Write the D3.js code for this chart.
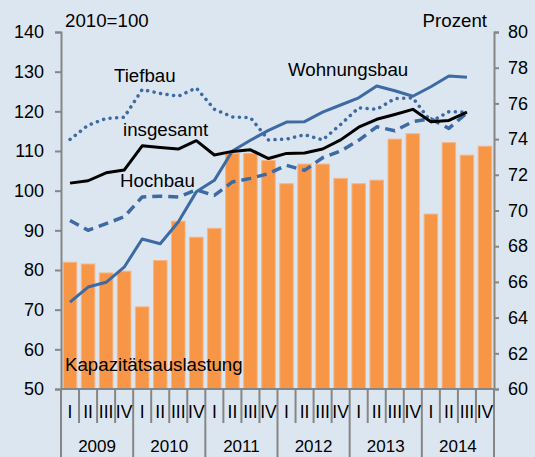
<!DOCTYPE html>
<html>
<head>
<meta charset="utf-8">
<script src="https://cdn.jsdelivr.net/npm/d3@7"></script>
<style>
  html, body { margin: 0; padding: 0; background: #dce6f1; }
  svg { display: block; font-family: "Liberation Sans", Arial, sans-serif; }
</style>
</head>
<body>
<div id="chart"></div>
<script>
const years = ["2009", "2010", "2011", "2012", "2013", "2014"];
const quarters = ["I", "II", "III", "IV"];

// Kapazitätsauslastung in Prozent (rechte Achse), 2009 I bis 2014 IV
const auslastung = [67.1, 67.0, 66.5, 66.6, 64.6, 67.2, 69.4, 68.5, 69.0, 73.2, 73.2, 72.8,
  71.5, 72.6, 72.6, 71.8, 71.5, 71.7, 74.0, 74.3, 69.8, 73.8, 73.1, 73.6];

// Indizes 2010=100 (linke Achse), 2009 I bis 2014 III
const insgesamt = [101.9, 102.5, 104.5, 105.2, 111.3, 110.9, 110.5, 112.6, 109.0, 109.9, 110.3, 108.1,
  109.4, 109.5, 110.5, 112.8, 116.0, 118.0, 119.2, 120.5, 117.4, 117.7, 119.8];
const wohnungsbau = [71.9, 75.7, 76.9, 80.7, 87.8, 86.6, 92.1, 99.7, 102.6, 110.0, 112.7, 115.2,
  117.3, 117.4, 119.8, 121.6, 123.4, 126.4, 125.2, 123.8, 126.2, 128.9, 128.6];
const tiefbau = [112.9, 116.5, 118.2, 118.5, 125.5, 124.5, 123.8, 125.9, 120.5, 118.6, 118.4, 112.8,
  113.0, 114.1, 112.8, 116.7, 120.9, 120.5, 123.2, 123.4, 117.4, 119.9, 119.8];
const hochbau = [92.5, 90.0, 91.7, 93.4, 98.4, 98.6, 98.4, 100.2, 98.8, 102.2, 103.1, 104.3,
  106.4, 105.1, 108.3, 110.0, 112.7, 116.1, 115.1, 117.4, 118.1, 115.7, 119.6];

const leftTicks = [50, 60, 70, 80, 90, 100, 110, 120, 130, 140];
const rightTicks = [60, 62, 64, 66, 68, 70, 72, 74, 76, 78, 80];

const width = 535, height = 457;
const plot = { left: 61, right: 494, top: 32, bottom: 389 };

const keys = [];
years.forEach(y => quarters.forEach(q => keys.push(y + "-" + q)));

const svg = d3.select("#chart").append("svg")
  .attr("width", width)
  .attr("height", height);

svg.append("rect")
  .attr("width", width)
  .attr("height", height)
  .attr("fill", "#dce6f1");

const x = d3.scaleBand()
  .domain(keys)
  .range([plot.left, plot.right])
  .paddingInner(0.25)
  .paddingOuter(0.125);

const yL = d3.scaleLinear().domain([50, 140]).range([plot.bottom, plot.top]);
const yR = d3.scaleLinear().domain([60, 80]).range([plot.bottom, plot.top]);

const cx = i => x(keys[i]) + x.bandwidth() / 2;

// bars
svg.append("g")
  .selectAll("rect")
  .data(auslastung)
  .enter().append("rect")
  .attr("x", (d, i) => x(keys[i]))
  .attr("y", d => yR(d))
  .attr("width", x.bandwidth())
  .attr("height", d => yR(60) - yR(d))
  .attr("fill", "#f79646")
  .attr("stroke", "#f9b483")
  .attr("stroke-width", 1);

// lines
const line = d3.line()
  .x((d, i) => cx(i))
  .y(d => yL(d));

const series = [
  { values: tiefbau, color: "#3d6aa3", width: 3.5, dash: "0.1 6.5", cap: "round" },
  { values: hochbau, color: "#3d6aa3", width: 3.5, dash: "10 6", cap: "butt" },
  { values: wohnungsbau, color: "#3d6aa3", width: 3, dash: null, cap: "butt" },
  { values: insgesamt, color: "#000000", width: 3, dash: null, cap: "butt" }
];

svg.append("g")
  .selectAll("path")
  .data(series)
  .enter().append("path")
  .attr("d", d => line(d.values))
  .attr("fill", "none")
  .attr("stroke", d => d.color)
  .attr("stroke-width", d => d.width)
  .attr("stroke-dasharray", d => d.dash)
  .attr("stroke-linecap", d => d.cap)
  .attr("stroke-linejoin", "round");

// axes
const axisColor = "#868686";

const gL = svg.append("g")
  .attr("transform", `translate(${plot.left},0)`)
  .call(d3.axisLeft(yL).tickValues(leftTicks).tickSize(6).tickSizeOuter(6).tickPadding(11));

const gR = svg.append("g")
  .attr("transform", `translate(${plot.right},0)`)
  .call(d3.axisRight(yR).tickValues(rightTicks).tickSize(5).tickSizeOuter(5).tickPadding(9));

[gL, gR].forEach(g => {
  g.selectAll("path, line").attr("stroke", axisColor).attr("stroke-width", 2);
  g.selectAll("text")
    .attr("fill", "#000")
    .style("font-size", "18px")
    .style("font-family", "'Liberation Sans', Arial, sans-serif");
});

// category axis
const gX = svg.append("g");
gX.append("line")
  .attr("x1", plot.left).attr("x2", plot.right)
  .attr("y1", plot.bottom).attr("y2", plot.bottom)
  .attr("stroke", axisColor).attr("stroke-width", 2);

const step = x.step();
d3.range(keys.length + 1).forEach(i => {
  const xb = plot.left + i * step;
  gX.append("line")
    .attr("x1", xb).attr("x2", xb)
    .attr("y1", plot.bottom)
    .attr("y2", i % 4 === 0 ? height : 423)
    .attr("stroke", axisColor)
    .attr("stroke-width", 2);
});

gX.selectAll("text.q")
  .data(keys)
  .enter().append("text")
  .attr("class", "q")
  .attr("x", (d, i) => cx(i))
  .attr("y", 418)
  .attr("text-anchor", "middle")
  .style("font-size", "17.5px")
  .text(d => d.split("-")[1]);

gX.selectAll("text.y")
  .data(years)
  .enter().append("text")
  .attr("class", "y")
  .attr("x", (d, i) => plot.left + (i * 4 + 2) * step)
  .attr("y", 452)
  .attr("text-anchor", "middle")
  .style("font-size", "17px")
  .text(d => d);

// annotations
const labels = [
  { text: "2010=100", x: 65, y: 27, anchor: "start" },
  { text: "Prozent", x: 487, y: 27, anchor: "end" },
  { text: "Tiefbau", x: 114, y: 82, anchor: "start" },
  { text: "insgesamt", x: 123, y: 136, anchor: "start" },
  { text: "Hochbau", x: 120, y: 187, anchor: "start" },
  { text: "Wohnungsbau", x: 288, y: 76, anchor: "start" },
  { text: "Kapazitätsauslastung", x: 65, y: 371, anchor: "start" }
];

svg.append("g")
  .selectAll("text")
  .data(labels)
  .enter().append("text")
  .attr("x", d => d.x)
  .attr("y", d => d.y)
  .attr("text-anchor", d => d.anchor)
  .style("font-size", "18.7px")
  .text(d => d.text);
</script>
</body>
</html>
